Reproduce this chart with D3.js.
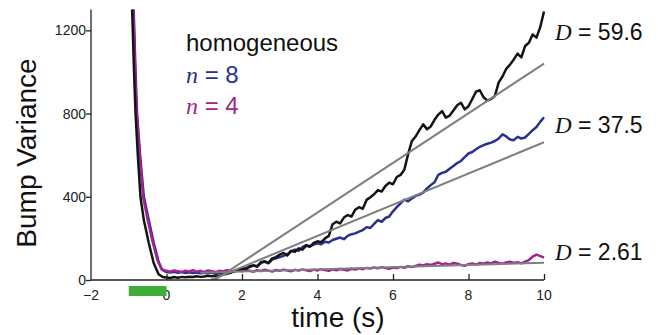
<!DOCTYPE html>
<html>
<head>
<meta charset="utf-8">
<script src="https://cdn.jsdelivr.net/npm/d3@7"></script>
<style>
    body { margin: 0; background: #fff; }
    text { font-family: "Liberation Sans", Arial, sans-serif; }
</style>
</head>
<body>
<svg id="chart" width="659" height="335"></svg>
<script>
// samples after t = 0 are every 0.1 s
const timeStep = 0.1;

const xTicks = [-2, 0, 2, 4, 6, 8, 10];
const yTicks = [0, 400, 800, 1200];

// [t, variance] for the fast decay before t = 0
const homogeneousDecay = [[-0.98, 1600], [-0.91, 1300], [-0.86, 1000], [-0.82, 800], [-0.76, 600], [-0.69, 400],
    [-0.6, 288], [-0.47, 178], [-0.34, 82], [-0.21, 28], [-0.1, 14]];
const n8Decay = [[-0.95, 1600], [-0.87, 1300], [-0.82, 1000], [-0.78, 800], [-0.7, 600], [-0.6, 400],
    [-0.47, 288], [-0.34, 180], [-0.21, 88], [-0.12, 50]];
const n4Decay = [[-0.96, 1600], [-0.88, 1300], [-0.83, 1000], [-0.79, 800], [-0.71, 600], [-0.62, 400],
    [-0.5, 290], [-0.37, 185], [-0.24, 95], [-0.13, 52]];

const homogeneousValues = [12, 10, 14, 11, 15, 13, 16, 14, 18, 15,
    17, 20, 18, 22, 20, 26, 30, 36, 42, 48,
    55, 52, 66, 70, 64, 85, 90, 82, 104, 110,
    122, 130, 118, 140, 136, 152, 146, 165, 160, 178,
    186, 182, 200, 212, 268, 280, 272, 300, 312, 305,
    338, 350, 342, 385, 398, 412, 432, 425, 452, 468,
    460, 495, 505, 530, 605, 668, 690, 720, 748, 725,
    738, 770, 795, 812, 780, 790, 815, 840, 852, 820,
    835, 870, 905, 912, 878, 862, 870, 885, 950, 978,
    1015, 1035, 1060, 1088, 1070, 1125, 1140, 1180, 1165, 1215,
    1290];
const n8Values = [38, 36, 40, 35, 38, 34, 37, 33, 36, 32,
    35, 33, 36, 32, 35, 30, 34, 36, 44, 50,
    48, 58, 62, 70, 66, 82, 88, 80, 98, 104,
    110, 116, 124, 138, 146, 140, 158, 168, 162, 170,
    176, 172, 184, 180, 192, 198, 204, 196, 212, 220,
    224, 232, 240, 254, 250, 270, 288, 280, 298, 305,
    330, 350, 368, 386, 378, 392, 404, 410, 420, 440,
    456, 470, 505, 515, 520, 535, 548, 562, 572, 590,
    608, 615, 628, 640, 648, 655, 660, 668, 680, 700,
    690, 675, 672, 688, 680, 685, 702, 720, 735, 760,
    782];
const n4Values = [44, 40, 46, 42, 38, 45, 41, 47, 40, 44,
    39, 46, 42, 38, 44, 41, 47, 43, 40, 46,
    42, 48, 44, 40, 47, 43, 49, 45, 41, 48,
    44, 50, 46, 42, 49, 45, 51, 47, 43, 50,
    46, 52, 48, 44, 51, 47, 53, 49, 46, 54,
    50, 56, 52, 58, 55, 60, 56, 62, 58, 54,
    60, 57, 63, 59, 66, 62, 68, 74, 70, 76,
    72, 78, 84, 76, 80, 74, 82, 78, 72, 68,
    76, 80, 74, 82, 78, 84, 80, 88, 82, 78,
    84, 88, 82, 86, 80, 88, 96, 112, 122, 115,
    108];

// linear fits, [t, variance] at both ends
const homogeneousFit = [[1.28, 0], [10, 1040]];
const n8Fit = [[1.17, 0], [10, 662]];
const n4Fit = [[0.9, 35], [10, 82.5]];

const seriesNames = ["n = 8", "n = 4", "homogeneous"];
const diffusionLabels = ["59.6", "37.5", "2.61"];

const stimulus = [-1, 0];

const colors = { homogeneous: "#141414", n8: "#27318f", n4: "#a3238f", fit: "#7f7f7f", stim: "#3fae38" };

const toSeries = (decay, values) => decay.concat(values.map((v, i) => [i * timeStep, v]));

const svg = d3.select("#chart");

const x = d3.scaleLinear().domain([-2, 10]).range([91, 544]);
const y = d3.scaleLinear().domain([0, 1300]).range([280, 9.5]);

svg.append("clipPath").attr("id", "plotClip")
    .append("rect")
    .attr("x", x(-2)).attr("y", y(1300))
    .attr("width", x(10) - x(-2) + 4)
    .attr("height", y(0) - y(1300));

const line = d3.line().x(d => x(d[0])).y(d => y(d[1]));

const curves = svg.append("g").attr("clip-path", "url(#plotClip)");

const curveData = [
    { data: toSeries(n8Decay, n8Values), color: colors.n8 },
    { data: toSeries(n4Decay, n4Values), color: colors.n4 },
    { data: toSeries(homogeneousDecay, homogeneousValues), color: colors.homogeneous }
];

curves.selectAll(".curve")
    .data(curveData)
    .enter()
    .append("path")
    .attr("class", "curve")
    .attr("d", d => line(d.data))
    .attr("fill", "none")
    .attr("stroke", d => d.color)
    .attr("stroke-width", 2.5)
    .attr("stroke-linejoin", "round");

curves.selectAll(".fit")
    .data([homogeneousFit, n8Fit, n4Fit])
    .enter()
    .append("path")
    .attr("class", "fit")
    .attr("d", line)
    .attr("fill", "none")
    .attr("stroke", colors.fit)
    .attr("stroke-width", 2);

/* axes */
const xAxis = d3.axisBottom(x).tickValues(xTicks.slice(1)).tickSize(-6).tickFormat("");
svg.append("g")
    .attr("transform", `translate(0,${y(0)})`)
    .call(xAxis)
    .call(g => g.select(".domain").attr("d", `M${x(-2)},0H${x(10)}`));

const yAxis = d3.axisLeft(y).tickValues(yTicks).tickSize(5).tickFormat("");
svg.append("g")
    .attr("transform", `translate(${x(-2)},0)`)
    .call(yAxis)
    .call(g => g.select(".domain").attr("d", `M0,${y(1300)}V${y(0)}`));

svg.selectAll(".domain, .tick line").attr("stroke", "#222").attr("stroke-width", 1.3);

svg.append("g").selectAll("text")
    .data(xTicks)
    .enter()
    .append("text")
    .attr("x", d => x(d))
    .attr("y", 300)
    .attr("text-anchor", "middle")
    .attr("font-size", 14)
    .attr("fill", "#222")
    .text(d => d < 0 ? "\u2212" + Math.abs(d) : d);

svg.append("g").selectAll("text")
    .data(yTicks)
    .enter()
    .append("text")
    .attr("x", 86)
    .attr("y", d => y(d) + 5)
    .attr("text-anchor", "end")
    .attr("font-size", 14)
    .attr("fill", "#222")
    .text(d => d);

svg.append("text")
    .attr("x", 338)
    .attr("y", 327)
    .attr("text-anchor", "middle")
    .attr("font-size", 28)
    .attr("fill", "#111")
    .text("time (s)");

svg.append("text")
    .attr("transform", "translate(36,153) rotate(-90)")
    .attr("text-anchor", "middle")
    .attr("font-size", 28)
    .attr("fill", "#111")
    .text("Bump Variance");

// stimulus bar under the axis
svg.append("rect")
    .attr("x", x(stimulus[0]))
    .attr("y", 286)
    .attr("width", x(stimulus[1]) - x(stimulus[0]))
    .attr("height", 10)
    .attr("fill", colors.stim);

/* legend */
svg.append("text")
    .attr("x", 186)
    .attr("y", 51)
    .attr("font-size", 24)
    .attr("fill", "#111")
    .text(seriesNames[2]);

const legendRows = [
    { label: seriesNames[0], color: colors.n8, y: 83 },
    { label: seriesNames[1], color: colors.n4, y: 114 }
];
legendRows.forEach(r => {
    const t = svg.append("text")
        .attr("x", 186)
        .attr("y", r.y)
        .attr("font-size", 24)
        .attr("fill", r.color);
    t.append("tspan")
        .attr("font-family", "'Liberation Serif', 'Times New Roman', serif")
        .attr("font-style", "italic")
        .text("n");
    t.append("tspan").text(r.label.slice(1));
});

/* diffusion constants at the right */
const dRows = [40, 133, 260];
diffusionLabels.forEach((v, i) => {
    const t = svg.append("text")
        .attr("x", 555)
        .attr("y", dRows[i])
        .attr("font-size", 23)
        .attr("fill", "#111");
    t.append("tspan")
        .attr("font-family", "'Liberation Serif', 'Times New Roman', serif")
        .attr("font-style", "italic")
        .text("D");
    t.append("tspan").text(" = " + v);
});
</script>
</body>
</html>
